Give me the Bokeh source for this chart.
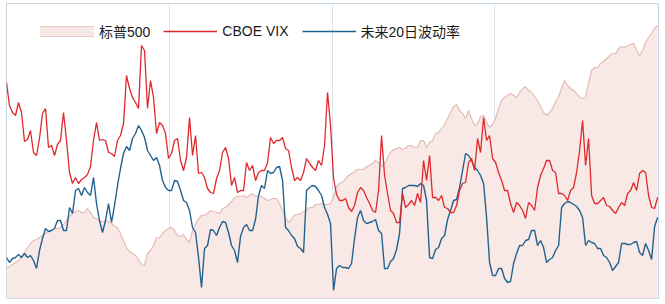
from bokeh.plotting import figure
from bokeh.models import Range1d, Legend, LegendItem, FixedTicker, ColumnDataSource, Grid
from bokeh.embed import file_html
from bokeh.resources import INLINE

# Normalised levels (no axis in the original)
sp500 = [30, 32, 34, 36, 38, 42, 46, 51, 55, 58,
         59, 61, 63, 65, 67, 68, 70, 70, 71, 74,
         78, 82, 85, 87, 88, 86, 86, 90, 86, 81,
         80, 77, 77, 78, 77, 75, 72, 71, 65, 58,
         51, 47, 45, 43, 39, 34, 33, 45, 48, 53,
         61, 61, 65, 68, 70, 71, 68, 63, 62, 64,
         59, 56, 68, 74, 80, 83, 83, 85, 88, 87,
         86, 85, 90, 91, 94, 97, 101, 102, 102, 103,
         101, 103, 105, 102, 103, 102, 100, 98, 99, 100,
         100, 95, 88, 81, 76, 79, 84, 84, 85, 87,
         88, 91, 91, 94, 94, 95, 94, 94, 95, 101,
         112, 115, 116, 120, 123, 125, 127, 129, 129, 129,
         132, 133, 135, 138, 136, 132, 135, 141, 146, 149,
         150, 151, 149, 150, 153, 153, 151, 151, 158, 158,
         151, 156, 158, 165, 166, 170, 174, 180, 186, 192,
         194, 188, 185, 180, 188, 180, 173, 175, 182, 183,
         176, 171, 174, 180, 190, 198, 201, 203, 205, 203,
         201, 206, 210, 212, 208, 206, 202, 198, 192, 186,
         183, 186, 190, 197, 202, 210, 218, 213, 210, 208,
         205, 201, 200, 201, 216, 228, 231, 231, 235, 237,
         240, 243, 245, 245, 250, 252, 251, 253, 254, 255,
         248, 243, 248, 256, 261, 265, 270, 273]

vix = [216, 193, 186, 183, 196, 186, 157, 159, 168, 146,
       143, 160, 185, 190, 151, 153, 143, 154, 158, 186,
       158, 126, 115, 121, 115, 119, 121, 124, 132, 158,
       176, 158, 159, 158, 146, 145, 142, 158, 163, 175,
       223, 210, 201, 196, 190, 253, 248, 190, 218, 201,
       165, 176, 173, 165, 140, 145, 158, 160, 138, 128,
       141, 181, 143, 163, 125, 126, 121, 110, 106, 105,
       120, 128, 146, 151, 140, 113, 121, 106, 108, 108,
       136, 128, 133, 118, 126, 128, 128, 136, 161, 155,
       158, 158, 161, 150, 148, 131, 118, 121, 118, 126,
       140, 135, 131, 128, 138, 133, 153, 206, 173, 120,
       104, 98, 98, 100, 91, 87, 93, 106, 111, 108,
       101, 95, 88, 86, 108, 163, 123, 105, 88, 85,
       76, 76, 105, 91, 94, 98, 93, 105, 96, 138,
       118, 143, 101, 101, 98, 103, 91, 90, 86, 86,
       93, 108, 115, 116, 136, 140, 128, 160, 146, 181,
       158, 163, 140, 136, 126, 118, 108, 108, 95, 86,
       96, 93, 88, 80, 96, 93, 88, 111, 123, 130,
       138, 138, 128, 126, 105, 105, 103, 98, 108, 111,
       126, 148, 178, 133, 160, 103, 95, 95, 98, 101,
       93, 92, 88, 85, 91, 96, 93, 105, 108, 116,
       108, 125, 128, 126, 103, 91, 90, 101]

fvol = [41, 36, 40, 41, 44, 41, 45, 41, 43, 38,
        30, 48, 60, 70, 67, 68, 70, 78, 78, 68,
        68, 91, 85, 108, 110, 103, 111, 106, 103, 121,
        95, 78, 66, 78, 95, 76, 93, 113, 130, 145,
        152, 148, 160, 165, 173, 168, 161, 148, 143, 138,
        141, 133, 118, 111, 108, 108, 118, 117, 108, 98,
        96, 88, 71, 66, 41, 11, 50, 53, 69, 68,
        63, 71, 77, 76, 66, 53, 48, 36, 62, 71,
        74, 68, 68, 79, 103, 113, 110, 128, 125, 126,
        131, 132, 118, 71, 68, 63, 60, 52, 50, 46,
        108, 111, 113, 112, 108, 103, 91, 84, 75, 8,
        30, 33, 31, 31, 30, 35, 60, 81, 88, 78,
        75, 76, 77, 79, 68, 65, 30, 30, 37, 40,
        49, 65, 110, 111, 113, 113, 113, 112, 115, 113,
        98, 41, 40, 49, 51, 60, 63, 79, 88, 98,
        99, 111, 128, 145, 143, 138, 131, 128, 123, 115,
        81, 36, 23, 23, 30, 30, 20, 16, 17, 35,
        45, 53, 53, 58, 59, 68, 68, 53, 58, 51,
        36, 39, 41, 48, 53, 91, 95, 97, 96, 94,
        92, 88, 81, 53, 58, 56, 55, 50, 50, 43,
        41, 36, 28, 32, 36, 55, 55, 54, 54, 56,
        57, 46, 43, 55, 48, 39, 72, 81]

labels = ["标普500", "CBOE VIX", "未来20日波动率"]
day = list(range(len(sp500)))

src = ColumnDataSource(data=dict(day=day, sp500=sp500, vix=vix, fvol=fvol))

FONT = "Liberation Sans, Noto Sans CJK SC"
PINK_FILL = "#f8e9e6"
PINK_LINE = "#e6bbb6"
RED = "#e0282c"
BLUE = "#23628f"

p = figure(width=665, height=304, output_backend="svg", toolbar_location=None,
           x_axis_location=None, y_axis_location=None,
           x_range=Range1d(0, 217.3), y_range=Range1d(0, 295),
           min_border_left=6, min_border_right=7, min_border_top=3, min_border_bottom=6)
for g in list(p.grid):
    g.visible = False
p.outline_line_color = "#c6d4e1"
p.outline_line_width = 1
p.background_fill_color = "white"
p.border_fill_color = "white"

n = len(day) - 1
p.add_layout(Grid(dimension=0, ticker=FixedTicker(ticks=[n * 0.25, n * 0.5, n * 0.75]),
                  grid_line_color="#dae4ee", grid_line_width=1))

p.varea(x="day", y1=0, y2="sp500", source=src, fill_color=PINK_FILL)
p.line(x="day", y="sp500", source=src, line_color=PINK_LINE, line_width=1.2)
r_vol = p.line(x="day", y="fvol", source=src, line_color=BLUE, line_width=1.4)
r_vix = p.line(x="day", y="vix", source=src, line_color=RED, line_width=1.3)

# legend-only swatch for the area series (a single NaN point draws nothing in the plot)
nan = float("nan")
leg_a = p.line(x=[nan], y=[nan], line_width=11, line_color="#ebc8c4")
leg_b = p.line(x=[nan], y=[nan], line_width=9, line_color=PINK_FILL)

legend = Legend(items=[LegendItem(label=labels[0], renderers=[leg_a, leg_b]),
                       LegendItem(label=labels[1], renderers=[r_vix]),
                       LegendItem(label=labels[2], renderers=[r_vol])],
                orientation="horizontal", location=(34, 257),
                border_line_color=None, background_fill_alpha=0,
                padding=0, margin=0, spacing=13, label_standoff=5,
                glyph_width=54, glyph_height=12, label_height=14,
                label_text_font_size="14px", label_text_font=FONT,
                label_text_color="#1a1a1a")
p.add_layout(legend)

open("out.html", "w").write(file_html(p, INLINE))
